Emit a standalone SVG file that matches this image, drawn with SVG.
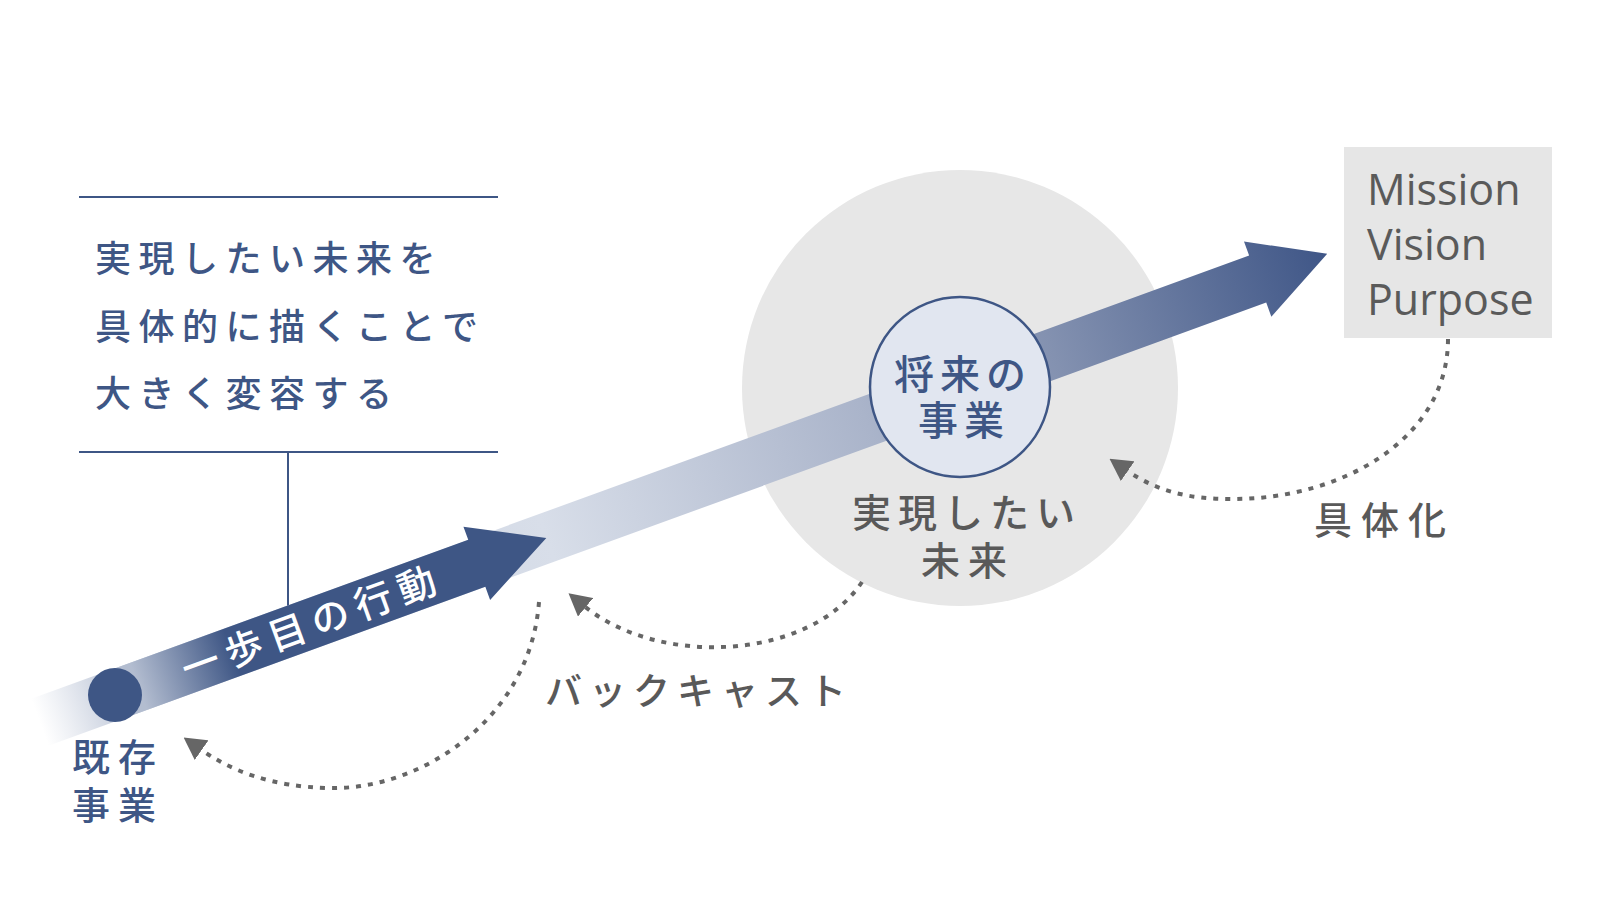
<svg xmlns="http://www.w3.org/2000/svg" width="1600" height="900" viewBox="0 0 1600 900">
  <style>
    .jp { font-family: "Noto Sans CJK JP", "Noto Sans", sans-serif; font-weight: 500; }
    .navy { fill: #3e5685; }
    .gray { fill: #595959; }
    .rule { stroke: #3e5685; stroke-width: 2; fill: none; }
    .dots { stroke: #666666; stroke-width: 4; stroke-dasharray: 5 7; fill: none; marker-end: url(#ah); }
    .en { font-family: "Open Sans", "Noto Sans", sans-serif; font-size: 43px; fill: #5a5a5a; }
  </style>
  <defs>
    <marker id="ah" viewBox="0 0 22 24" refX="2" refY="12" markerWidth="22" markerHeight="24" markerUnits="userSpaceOnUse" orient="auto">
      <path d="M0,0 L22,12 L0,24 Z" fill="#666666"/>
    </marker>
    <linearGradient id="shaftGrad" gradientUnits="userSpaceOnUse" x1="-80" y1="0" x2="1290" y2="0">
      <stop offset="0" stop-color="#cdd4e1" stop-opacity="0"/>
      <stop offset="0.058" stop-color="#c3cbdb"/>
      <stop offset="0.394" stop-color="#d8dee9"/>
      <stop offset="0.642" stop-color="#aab4ca"/>
      <stop offset="0.788" stop-color="#8391b0"/>
      <stop offset="1" stop-color="#3f5687"/>
    </linearGradient>
    <linearGradient id="firstGrad" gradientUnits="userSpaceOnUse" x1="25" y1="0" x2="125" y2="0">
      <stop offset="0" stop-color="#b3bdd0"/>
      <stop offset="1" stop-color="#3e5685"/>
    </linearGradient>
  </defs>

  <rect width="1600" height="900" fill="#ffffff"/>

  <!-- big future circle -->
  <g id="node-future">
    <circle cx="960" cy="388" r="218" fill="#e7e7e7"/>
    <text class="jp gray" x="852" y="527" font-size="39" letter-spacing="7">実現したい</text>
    <text class="jp gray" x="921" y="575" font-size="39" letter-spacing="8">未来</text>
  </g>

  <!-- statement block -->
  <g id="node-statement">
    <line class="rule" x1="79" y1="197" x2="498" y2="197"/>
    <line class="rule" x1="79" y1="452" x2="498" y2="452"/>
    <text class="jp navy" x="95" y="272" font-size="36" letter-spacing="7.5">実現したい未来を</text>
    <text class="jp navy" x="95" y="340" font-size="36" letter-spacing="7.5">具体的に描くことで</text>
    <text class="jp navy" x="95" y="407" font-size="36" letter-spacing="7.5">大きく変容する</text>
  </g>

  <!-- connectors -->
  <g id="connectors">
    <line class="rule" x1="288" y1="452" x2="288" y2="607"/>
    <path class="dots" d="M539,602 C530,720 420,790 330,788 C270,787 230,770 200,749"/>
    <path class="dots" d="M862,582 C810,660 660,668 584,606"/>
    <path class="dots" d="M1448,339 C1448,440 1340,500 1230,499 C1190,499 1158,492 1126,470"/>
  </g>

  <!-- arrows -->
  <g id="arrows" transform="translate(115,695) rotate(-20)">
    <path d="M-80,-25 L1216,-25 L1216,-40 L1290,0 L1216,40 L1216,25 L-80,25 Z" fill="url(#shaftGrad)"/>
    <path d="M0,-25 L385,-25 L385,-39 L459,0 L385,39 L385,25 L0,25 Z" fill="url(#firstGrad)"/>
    <text class="jp" x="72" y="14" font-size="38" letter-spacing="8" fill="#ffffff">一歩目の行動</text>
  </g>

  <!-- existing business -->
  <g id="node-existing">
    <circle cx="115" cy="695" r="27" fill="#3e5685"/>
    <text class="jp navy" x="72" y="771" font-size="38" letter-spacing="8">既存</text>
    <text class="jp navy" x="72" y="819" font-size="38" letter-spacing="8">事業</text>
  </g>

  <!-- future business -->
  <g id="node-business">
    <circle cx="960" cy="387" r="90" fill="#e1e6f0" stroke="#3e5685" stroke-width="2.5"/>
    <text class="jp navy" x="894" y="389" font-size="40" letter-spacing="6">将来の</text>
    <text class="jp navy" x="918" y="435" font-size="40" letter-spacing="6">事業</text>
  </g>

  <!-- MVP -->
  <g id="node-mvp">
    <rect x="1344" y="147" width="208" height="191" fill="#e6e6e6"/>
    <text class="en" x="1367" y="205">Mission</text>
    <text class="en" x="1367" y="260">Vision</text>
    <text class="en" x="1367" y="315">Purpose</text>
  </g>

  <!-- labels -->
  <g id="label-backcast">
    <text class="jp gray" x="545" y="705" font-size="37" letter-spacing="7">バックキャスト</text>
  </g>
  <g id="label-concretize">
    <text class="jp gray" x="1314" y="534" font-size="38" letter-spacing="9">具体化</text>
  </g>
</svg>
